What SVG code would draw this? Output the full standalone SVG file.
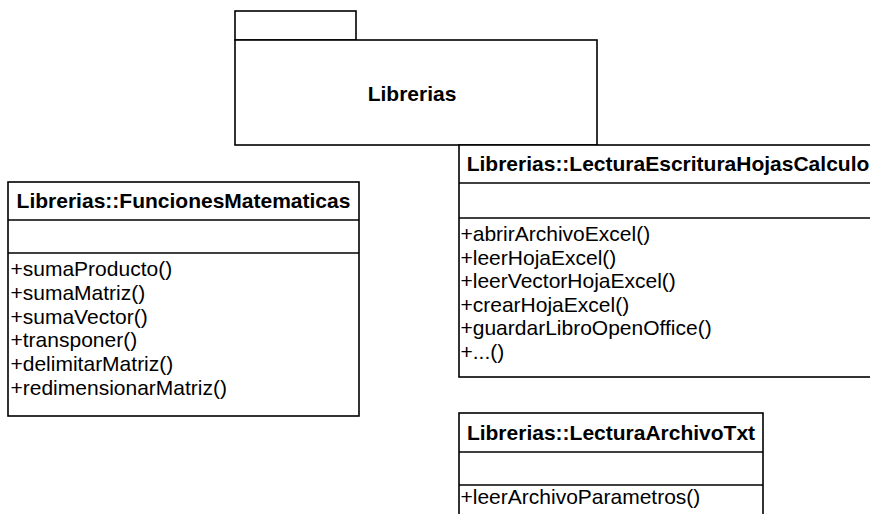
<svg xmlns="http://www.w3.org/2000/svg" width="870" height="514" viewBox="0 0 870 514">
  <style>
    .box { fill: #ffffff; stroke: #000000; stroke-width: 1.6; }
    .sep { stroke: #000000; stroke-width: 1.6; fill: none; }
    .title { font-family: "Liberation Sans", Arial, sans-serif; font-size: 21px; font-weight: bold; fill: #000000; }
    .op { font-family: "Liberation Sans", Arial, sans-serif; font-size: 21px; fill: #000000; }
  </style>
  <rect width="870" height="514" fill="#ffffff"/>

  <!-- package Librerias -->
  <g id="pkg-librerias">
    <rect class="box" x="235" y="11" width="121" height="29"/>
    <rect class="box" x="235" y="40" width="362" height="105"/>
    <text class="title" x="412" y="101" text-anchor="middle">Librerias</text>
  </g>

  <!-- class FuncionesMatematicas -->
  <g id="cls-funciones-matematicas">
    <rect class="box" x="8" y="182" width="351" height="234"/>
    <line class="sep" x1="8" y1="220" x2="359" y2="220"/>
    <line class="sep" x1="8" y1="253" x2="359" y2="253"/>
    <text class="title" x="183.5" y="208" text-anchor="middle">Librerias::FuncionesMatematicas</text>
    <text class="op" x="10.5" y="276">+sumaProducto()</text>
    <text class="op" x="10.5" y="299.8">+sumaMatriz()</text>
    <text class="op" x="10.5" y="323.6">+sumaVector()</text>
    <text class="op" x="10.5" y="347.4">+transponer()</text>
    <text class="op" x="10.5" y="371.2">+delimitarMatriz()</text>
    <text class="op" x="10.5" y="395">+redimensionarMatriz()</text>
  </g>

  <!-- class LecturaEscrituraHojasCalculo -->
  <g id="cls-lectura-escritura-hojas">
    <rect class="box" x="459" y="145" width="418" height="232"/>
    <line class="sep" x1="459" y1="183" x2="877" y2="183"/>
    <line class="sep" x1="459" y1="218" x2="877" y2="218"/>
    <text class="title" x="668" y="171" text-anchor="middle">Librerias::LecturaEscrituraHojasCalculo</text>
    <text class="op" x="460.5" y="241">+abrirArchivoExcel()</text>
    <text class="op" x="460.5" y="264.5">+leerHojaExcel()</text>
    <text class="op" x="460.5" y="288">+leerVectorHojaExcel()</text>
    <text class="op" x="460.5" y="311.5">+crearHojaExcel()</text>
    <text class="op" x="460.5" y="335">+guardarLibroOpenOffice()</text>
    <text class="op" x="460.5" y="358.5">+...()</text>
  </g>

  <!-- class LecturaArchivoTxt -->
  <g id="cls-lectura-archivo-txt">
    <rect class="box" x="459" y="413" width="304" height="110"/>
    <line class="sep" x1="459" y1="452" x2="763" y2="452"/>
    <line class="sep" x1="459" y1="485" x2="763" y2="485"/>
    <text class="title" x="611" y="440" text-anchor="middle">Librerias::LecturaArchivoTxt</text>
    <text class="op" x="460.5" y="504">+leerArchivoParametros()</text>
  </g>

  <!-- no connectors between these elements -->
  <g id="connectors"/>
</svg>
